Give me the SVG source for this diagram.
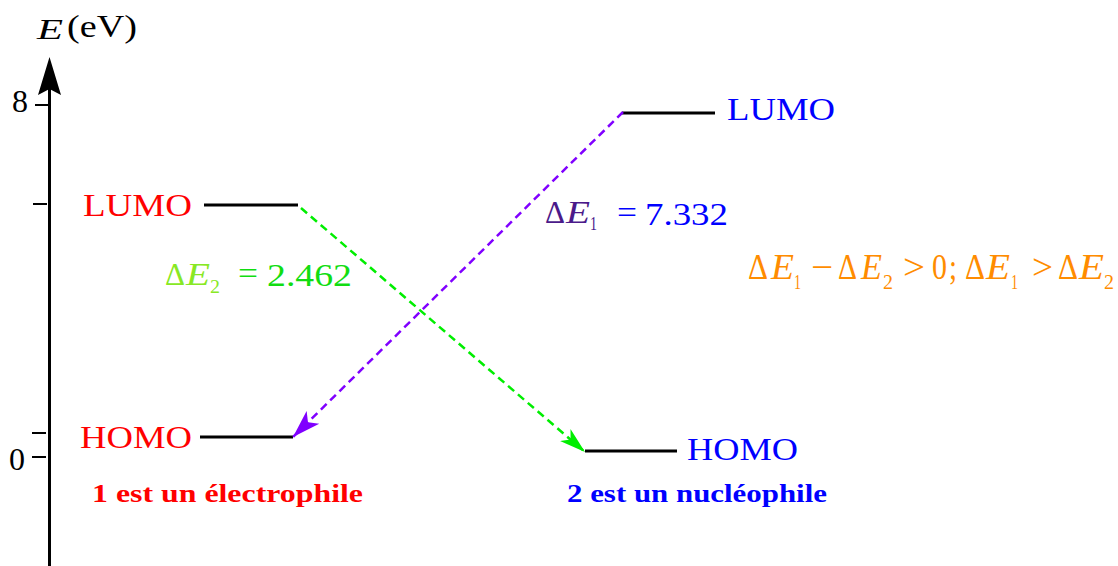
<svg xmlns="http://www.w3.org/2000/svg" width="1118" height="566" viewBox="0 0 1118 566">
<style>
text{font-family:"Liberation Serif","Times New Roman",serif}
.lvl{stroke:#000;stroke-width:3;fill:none}
.tick{stroke:#000;stroke-width:2}
.big{font-size:32px}
.it{font-style:italic}
.bold{font-weight:bold;font-size:26px}
.or{fill:#ff8c00;font-size:36px}
.ors{fill:#ff8c00;font-size:22px}
</style>
<defs>
<marker id="ap" markerUnits="userSpaceOnUse" markerWidth="30" markerHeight="20" viewBox="0 0 30 20" refX="28" refY="10" orient="auto">
<path d="M0,1 L28,10 L0,19 L7,10 Z" fill="#8000ff"/>
</marker>
<marker id="ag" markerUnits="userSpaceOnUse" markerWidth="28" markerHeight="18" viewBox="0 0 28 18" refX="26" refY="9" orient="auto">
<path d="M0,1 L26,9 L0,17 L7,9 Z" fill="#00ee00"/>
</marker>
</defs>
<g id="axis">
<line x1="49.5" y1="80" x2="49.5" y2="566" stroke="#000" stroke-width="3"/>
<path d="M49.5,57 L61,95 L49.5,89 L38,95 Z" fill="#000"/>
<line class="tick" x1="35" y1="105" x2="49" y2="105"/>
<line class="tick" x1="33" y1="204" x2="47" y2="204"/>
<line class="tick" x1="32" y1="433" x2="46" y2="433"/>
<line class="tick" x1="32" y1="457" x2="46" y2="457"/>
<text x="12" y="112" font-size="32" textLength="16" lengthAdjust="spacingAndGlyphs">8</text>
<text x="9" y="470" font-size="32" textLength="16" lengthAdjust="spacingAndGlyphs">0</text>
<text class="it" x="37" y="39" font-size="30" textLength="26" lengthAdjust="spacingAndGlyphs">E</text>
<text x="67" y="37" font-size="32" textLength="70" lengthAdjust="spacingAndGlyphs">(eV)</text>
</g>
<g id="lumo1">
<line class="lvl" x1="204" y1="205" x2="298" y2="205"/>
<text class="big" x="83" y="216" fill="#ff0000" textLength="109" lengthAdjust="spacingAndGlyphs">LUMO</text>
</g>
<g id="homo1">
<line class="lvl" x1="200" y1="437" x2="293" y2="437"/>
<text class="big" x="80" y="448" fill="#ff0000" textLength="112" lengthAdjust="spacingAndGlyphs">HOMO</text>
<text class="bold" x="92" y="502" fill="#ff0000" textLength="271" lengthAdjust="spacingAndGlyphs">1 est un électrophile</text>
</g>
<g id="lumo2">
<line class="lvl" x1="622" y1="113" x2="715" y2="113"/>
<text class="big" x="727" y="120" fill="#0000ff" textLength="108" lengthAdjust="spacingAndGlyphs">LUMO</text>
</g>
<g id="homo2">
<line class="lvl" x1="585" y1="451" x2="677" y2="451"/>
<text class="big" x="687" y="460" fill="#0000ff" textLength="111" lengthAdjust="spacingAndGlyphs">HOMO</text>
<text class="bold" x="567" y="502" fill="#0000ff" textLength="260" lengthAdjust="spacingAndGlyphs">2 est  un nucléophile</text>
</g>
<g id="connectors">
<line x1="301" y1="208" x2="585" y2="452" stroke="#00ee00" stroke-width="2.5" stroke-dasharray="8,5" marker-end="url(#ag)"/>
<line x1="623" y1="112" x2="293" y2="437" stroke="#8000ff" stroke-width="2.5" stroke-dasharray="8,5" marker-end="url(#ap)"/>
</g>
<g id="dE2" fill="#88e824">
<text x="165" y="285" font-size="31" textLength="20" lengthAdjust="spacingAndGlyphs">Δ</text>
<text class="it" x="186" y="285" font-size="31" textLength="24" lengthAdjust="spacingAndGlyphs">E</text>
<text x="210" y="293" font-size="19" textLength="10" lengthAdjust="spacingAndGlyphs">2</text>
<text x="238" y="284" font-size="31" fill="#11dd11" textLength="20" lengthAdjust="spacingAndGlyphs">=</text>
<text x="267" y="286" font-size="32" fill="#11dd11" textLength="85" lengthAdjust="spacingAndGlyphs">2.462</text>
</g>
<g id="dE1" fill="#4b1a8a">
<text x="545" y="223" font-size="31" textLength="20" lengthAdjust="spacingAndGlyphs">Δ</text>
<text class="it" x="566" y="223" font-size="31" textLength="24" lengthAdjust="spacingAndGlyphs">E</text>
<text x="590" y="230" font-size="19" textLength="7" lengthAdjust="spacingAndGlyphs">1</text>
<text x="617" y="223" font-size="31" fill="#0000ff" textLength="20" lengthAdjust="spacingAndGlyphs">=</text>
<text x="645" y="225" font-size="32" fill="#0000ff" textLength="83" lengthAdjust="spacingAndGlyphs">7.332</text>
</g>
<g id="formula">
<text class="or" x="748" y="279" textLength="20" lengthAdjust="spacingAndGlyphs">Δ</text>
<text class="or it" x="771" y="279" textLength="23" lengthAdjust="spacingAndGlyphs">E</text>
<text class="ors" x="794" y="289" textLength="7" lengthAdjust="spacingAndGlyphs">1</text>
<text class="or" x="811" y="279" textLength="22" lengthAdjust="spacingAndGlyphs">−</text>
<text class="or" x="838" y="279" textLength="19" lengthAdjust="spacingAndGlyphs">Δ</text>
<text class="or it" x="861" y="279" textLength="21" lengthAdjust="spacingAndGlyphs">E</text>
<text class="ors" x="883" y="289" textLength="10" lengthAdjust="spacingAndGlyphs">2</text>
<text class="or" x="903" y="279" textLength="22" lengthAdjust="spacingAndGlyphs">&gt;</text>
<text class="or" x="932" y="279" textLength="15" lengthAdjust="spacingAndGlyphs">0</text>
<text class="or" x="949" y="279" textLength="8" lengthAdjust="spacingAndGlyphs">;</text>
<text class="or" x="965" y="279" textLength="20" lengthAdjust="spacingAndGlyphs">Δ</text>
<text class="or it" x="986" y="279" textLength="24" lengthAdjust="spacingAndGlyphs">E</text>
<text class="ors" x="1011" y="289" textLength="7" lengthAdjust="spacingAndGlyphs">1</text>
<text class="or" x="1032" y="279" textLength="21" lengthAdjust="spacingAndGlyphs">&gt;</text>
<text class="or" x="1058" y="279" textLength="20" lengthAdjust="spacingAndGlyphs">Δ</text>
<text class="or it" x="1079" y="279" textLength="25" lengthAdjust="spacingAndGlyphs">E</text>
<text class="ors" x="1104" y="289" textLength="10" lengthAdjust="spacingAndGlyphs">2</text>
</g>
</svg>
